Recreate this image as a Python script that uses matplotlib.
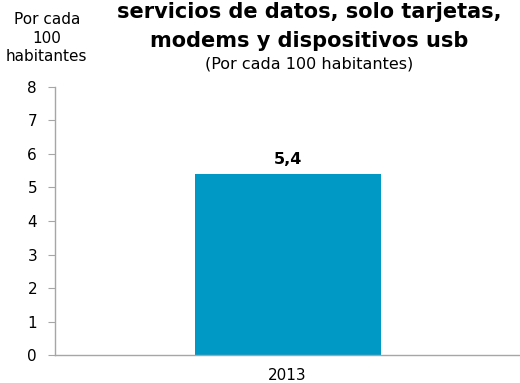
import matplotlib.pyplot as plt

# data
years = ['2013']
values = [5.4]
value_labels = ['5,4']
yticks = [0, 1, 2, 3, 4, 5, 6, 7, 8]

plt.rcParams['font.family'] = ['DejaVu Sans']

fig = plt.figure(figsize=(5.2, 3.83), dpi=100)
ax = fig.add_axes([0.106, 0.073, 0.894, 0.70])

bars = ax.bar(years, values, width=0.4, color='#0098C4', zorder=2)
for b, lab in zip(bars, value_labels):
    ax.text(b.get_x() + b.get_width() / 2, b.get_height() + 0.22, lab,
            ha='center', va='bottom', fontsize=11.5, fontweight='bold')

ax.set_xlim(-0.5, 0.5)
ax.set_ylim(0, 8)
ax.set_yticks(yticks)
ax.tick_params(axis='y', length=5, color='#A6A6A6', labelsize=11, pad=8)
ax.tick_params(axis='x', length=0, labelsize=11, pad=9)

for s in ['top', 'right']:
    ax.spines[s].set_visible(False)
for s in ['left', 'bottom']:
    ax.spines[s].set_color('#A6A6A6')
    ax.spines[s].set_linewidth(1)

# title (first line falls mostly outside the picture)
fig.text(0.952, 1.045, 'Suscripciones a internet móvil,', ha='right',
         va='center', fontsize=15, fontweight='bold')
fig.text(0.594, 0.968, 'servicios de datos, solo tarjetas,', ha='center',
         va='center', fontsize=15, fontweight='bold')
fig.text(0.594, 0.893, 'modems y dispositivos usb', ha='center',
         va='center', fontsize=15, fontweight='bold')
fig.text(0.594, 0.834, '(Por cada 100 habitantes)', ha='center',
         va='center', fontsize=11.5)

fig.text(0.09, 0.90, 'Por cada\n100\nhabitantes', ha='center', va='center',
         fontsize=11, linespacing=1.3)

fig.savefig('out.png', dpi=100)
